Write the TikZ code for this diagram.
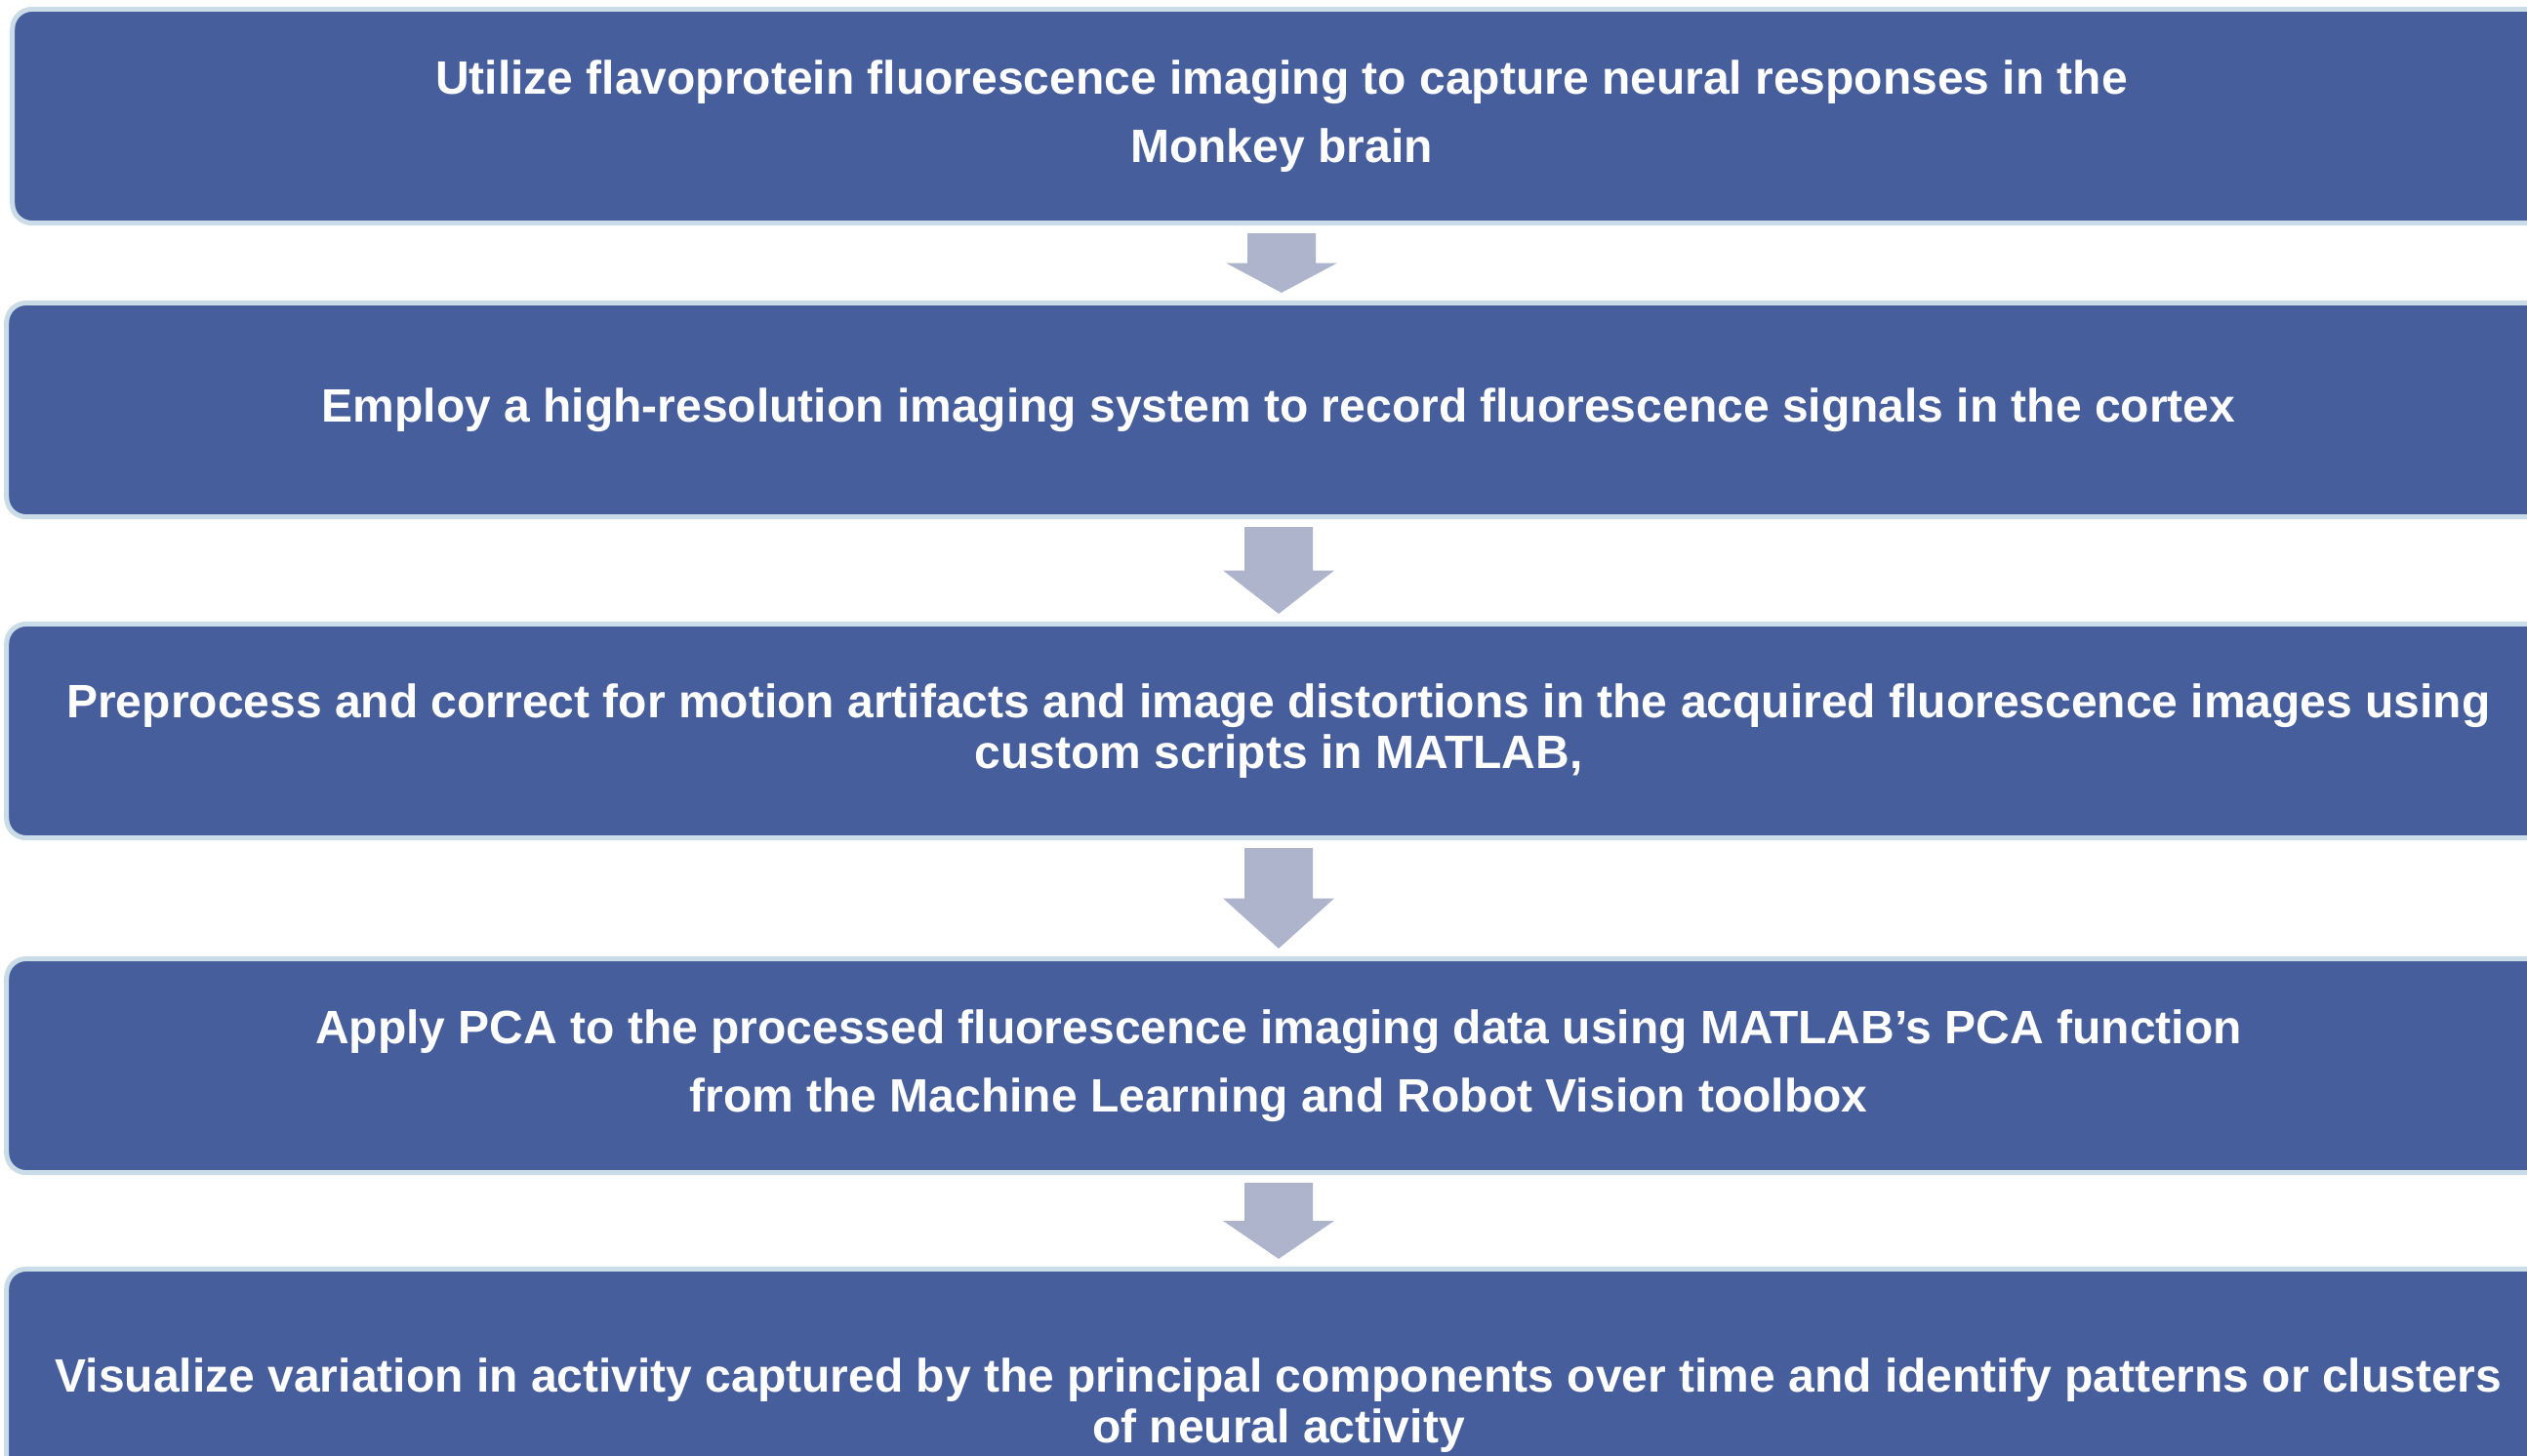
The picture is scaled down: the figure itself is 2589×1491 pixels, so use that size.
\documentclass[tikz,border=0pt]{standalone}
\usepackage{fontspec}
\setmainfont{Liberation Sans}
\usetikzlibrary{calc}

\definecolor{boxblue}{RGB}{70,94,155}
\definecolor{boxedge}{RGB}{202,220,232}
\definecolor{arrowgray}{RGB}{174,180,204}

\begin{document}
\begin{tikzpicture}[x=0.01cm, y=-0.01cm, % one unit = one pixel, y downwards
    stepbox/.style={draw=boxedge, line width=0.05cm, fill=boxblue, rounded corners=0.2cm,
      minimum width=26.05cm, minimum height=2.19cm, inner sep=0pt,
      text=white, font=\fontsize{13.65}{14.8}\selectfont\bfseries, align=center},
    arrowfill/.style={fill=arrowgray}]

        % Define parameters
        \def\shaft{35}  % half width of the shaft
        \def\head{57}   % half width of the head
        \def\pad{8}     % space between box and arrow

        \useasboundingbox (0,0) rectangle (2589,1491);
        \clip (0,0) rectangle (2589,1491);

        % boxes
        \node[stepbox, minimum width=25.99cm] (s1) at (1313,119)
            {Utilize flavoprotein fluorescence imaging to capture neural responses in the\\[0.18cm]Monkey brain};
        \node[stepbox] (s2) at (1310,420)
            {Employ a high-resolution imaging system to record fluorescence signals in the cortex};
        \node[stepbox] (s3) at (1310,749)
            {Preprocess and correct for motion artifacts and image distortions in the acquired fluorescence images using\\custom scripts in MATLAB,};
        \node[stepbox] (s4) at (1310,1092)
            {Apply PCA to the processed fluorescence imaging data using MATLAB’s PCA function\\[0.18cm]from the Machine Learning and Robot Vision toolbox};
        \node[stepbox, minimum height=2.79cm] (s5) at (1310,1440)
            {Visualize variation in activity captured by the principal components over time and identify patterns or clusters\\of neural activity};

        % arrows
        \foreach \a/\b in {s1/s2, s2/s3, s3/s4, s4/s5} {
            \coordinate (top) at ($(\a.south)+(0,\pad)$);
            \coordinate (mid) at ($(\a.south)!0.5!(\a.south |- \b.north)$);
            \coordinate (tip) at ($(\a.south |- \b.north)+(0,-\pad)$);
            \fill[arrowfill] ($(top)+(-\shaft,0)$) -- ($(top)+(\shaft,0)$) -- ($(mid)+(\shaft,0)$)
                -- ($(mid)+(\head,0)$) -- (tip) -- ($(mid)+(-\head,0)$) -- ($(mid)+(-\shaft,0)$) -- cycle;
        }

    \end{tikzpicture}
\end{document}
